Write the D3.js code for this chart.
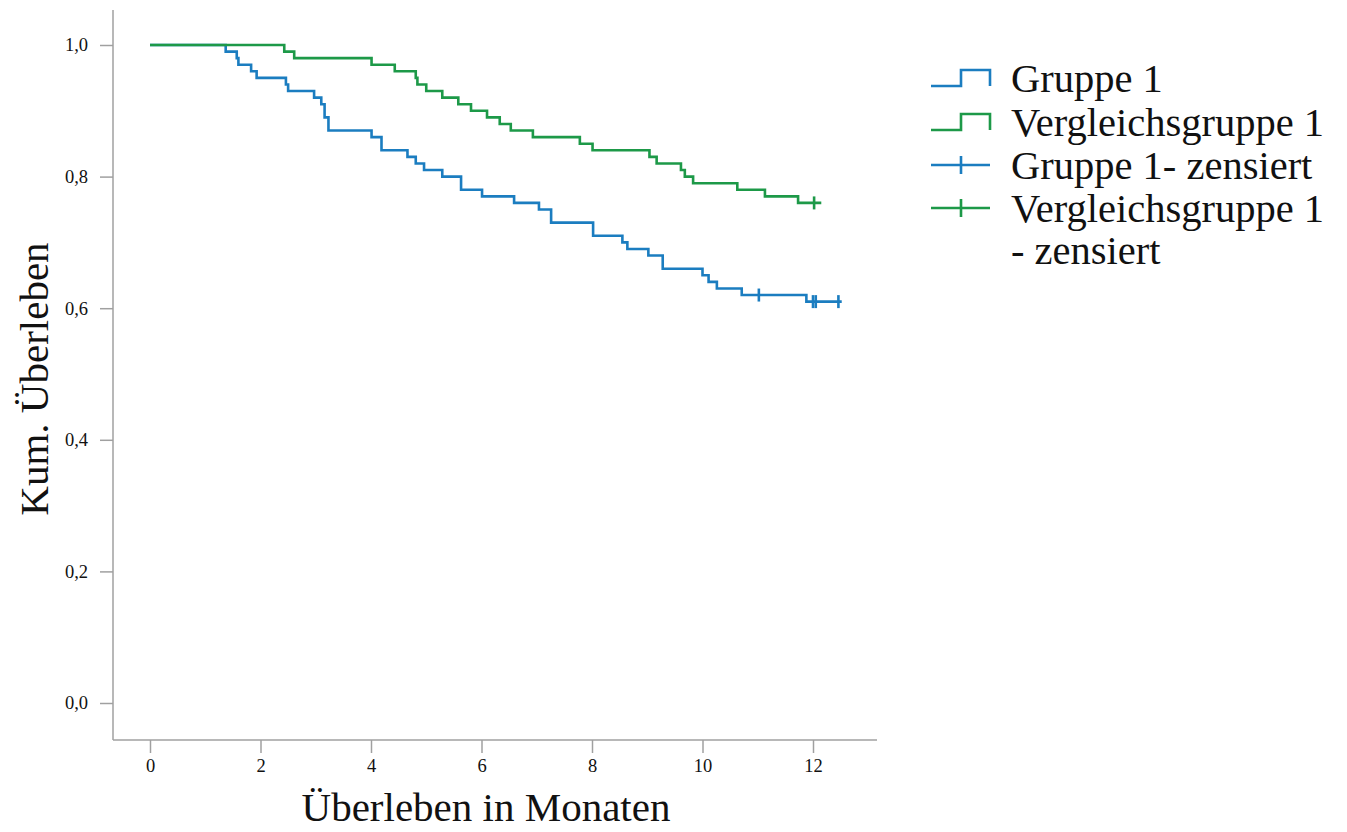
<!DOCTYPE html>
<html>
<head>
<meta charset="utf-8">
<script src="https://cdn.jsdelivr.net/npm/d3@7"></script>
<style>
  body { margin: 0; background: #fff; }
  text { font-family: "Liberation Serif", "Times New Roman", serif; fill: #111; }
</style>
</head>
<body>
<div class="chart"></div>
<script>
// Kaplan-Meier steps (months, cumulative survival)
const gruppeTimes = [0, 1.37, 1.57, 1.60, 1.83, 1.93, 2.46, 2.50, 2.97, 3.10, 3.16, 3.23, 4.01, 4.19, 4.66, 4.81, 4.96, 5.29, 5.63, 6.01, 6.59, 7.04, 7.26, 8.02, 8.55, 8.64, 9.02, 9.28, 10.00, 10.11, 10.26, 10.71, 11.88];
const gruppeSurv  = [1.00, 0.99, 0.98, 0.97, 0.96, 0.95, 0.94, 0.93, 0.92, 0.91, 0.89, 0.87, 0.86, 0.84, 0.83, 0.82, 0.81, 0.80, 0.78, 0.77, 0.76, 0.75, 0.73, 0.71, 0.70, 0.69, 0.68, 0.66, 0.65, 0.64, 0.63, 0.62, 0.61];
const gruppeCensored = [11.02, 12.00, 12.05, 12.46];
const gruppeEnd = 12.52;

const vergleichTimes = [0, 2.43, 2.61, 4.01, 4.43, 4.81, 4.84, 5.00, 5.29, 5.58, 5.81, 6.10, 6.33, 6.53, 6.93, 7.78, 8.01, 9.04, 9.17, 9.61, 9.68, 9.83, 10.63, 11.13, 11.73];
const vergleichSurv  = [1.00, 0.99, 0.98, 0.97, 0.96, 0.95, 0.94, 0.93, 0.92, 0.91, 0.90, 0.89, 0.88, 0.87, 0.86, 0.85, 0.84, 0.83, 0.82, 0.81, 0.80, 0.79, 0.78, 0.77, 0.76];
const vergleichCensored = [12.02];
const vergleichEnd = 12.15;

const xTicks = [0, 2, 4, 6, 8, 10, 12];
const yTicks = [0, 0.2, 0.4, 0.6, 0.8, 1.0];
const legendLabels = ["Gruppe 1", "Vergleichsgruppe 1", "Gruppe 1- zensiert", "Vergleichsgruppe 1", "- zensiert"];

const blue = "#1b7dc0", green = "#1d9948", axisGrey = "#a0a0a0";

const svg = d3.select(".chart").append("svg")
    .attr("width", 1347)
    .attr("height", 832);

// pixel positions of 0 and 12 months, 0 and 1 survival
const xScale = d3.scaleLinear().domain([0, 12]).range([150, 813]);
const yScale = d3.scaleLinear().domain([0, 1]).range([703, 45]);

// axes
const xAxis = d3.axisBottom(xScale).tickValues(xTicks).tickSize(13).tickSizeOuter(0).tickPadding(6);
const yAxis = d3.axisLeft(yScale).tickValues(yTicks).tickSize(13).tickSizeOuter(0).tickPadding(12)
    .tickFormat(d => d3.format(".1f")(d).replace(".", ","));

const gx = svg.append("g").attr("transform", "translate(0,740)").call(xAxis);
gx.select(".domain").attr("d", `M113,0H877`);
const gy = svg.append("g").attr("transform", "translate(113,0)").call(yAxis);
gy.select(".domain").attr("d", `M0,10V740`);

svg.selectAll(".domain, .tick line").attr("stroke", axisGrey).attr("stroke-width", 1.5);
svg.selectAll(".tick text")
    .attr("font-family", "Liberation Serif, serif")
    .attr("font-size", 18.5)
    .attr("fill", "#222");

// axis titles
svg.append("text")
    .attr("x", 486).attr("y", 821)
    .attr("text-anchor", "middle")
    .attr("font-size", 41)
    .text("Überleben in Monaten");

svg.append("text")
    .attr("transform", "translate(48,379) rotate(-90)")
    .attr("text-anchor", "middle")
    .attr("font-size", 41)
    .text("Kum. Überleben");

// survival curves
function km(times, surv, end) {
  const pts = times.map((t, i) => ({t: t, s: surv[i]}));
  pts.push({t: end, s: surv[surv.length - 1]});
  return pts;
}
function survAt(times, surv, t) {
  let s = surv[0];
  times.forEach((tt, i) => { if (tt <= t) s = surv[i]; });
  return s;
}

const line = d3.line()
    .x(d => xScale(d.t))
    .y(d => yScale(d.s))
    .curve(d3.curveStepAfter);

const groups = [
  {times: gruppeTimes, surv: gruppeSurv, cens: gruppeCensored, end: gruppeEnd, color: blue},
  {times: vergleichTimes, surv: vergleichSurv, cens: vergleichCensored, end: vergleichEnd, color: green}
];

groups.forEach(g => {
  svg.append("path")
      .datum(km(g.times, g.surv, g.end))
      .attr("d", line)
      .attr("fill", "none")
      .attr("stroke", g.color)
      .attr("stroke-width", 2.6);

  svg.selectAll(null)
      .data(g.cens)
      .enter()
      .append("line")
      .attr("x1", d => xScale(d)).attr("x2", d => xScale(d))
      .attr("y1", d => yScale(survAt(g.times, g.surv, d)) - 6.5)
      .attr("y2", d => yScale(survAt(g.times, g.surv, d)) + 6.5)
      .attr("stroke", g.color)
      .attr("stroke-width", 2.6);
});

// legend
const legend = svg.append("g").attr("transform", "translate(931,0)");
const rowY = [92, 136, 179, 222, 264];

legend.selectAll("text")
    .data(legendLabels)
    .enter()
    .append("text")
    .attr("x", 80)
    .attr("y", (d, i) => rowY[i])
    .attr("font-size", 40.5)
    .text(d => d);

[blue, green].forEach((c, i) => {
  const base = rowY[i] - 6;
  legend.append("path")
      .attr("d", `M0,${base}H30V${base - 16}H59V${base}`)
      .attr("fill", "none")
      .attr("stroke", c)
      .attr("stroke-width", 2.6);
});
[blue, green].forEach((c, i) => {
  const mid = rowY[i + 2] - 14;
  legend.append("path")
      .attr("d", `M0,${mid}H59M30,${mid - 9}V${mid + 9}`)
      .attr("fill", "none")
      .attr("stroke", c)
      .attr("stroke-width", 2.6);
});
</script>
</body>
</html>
